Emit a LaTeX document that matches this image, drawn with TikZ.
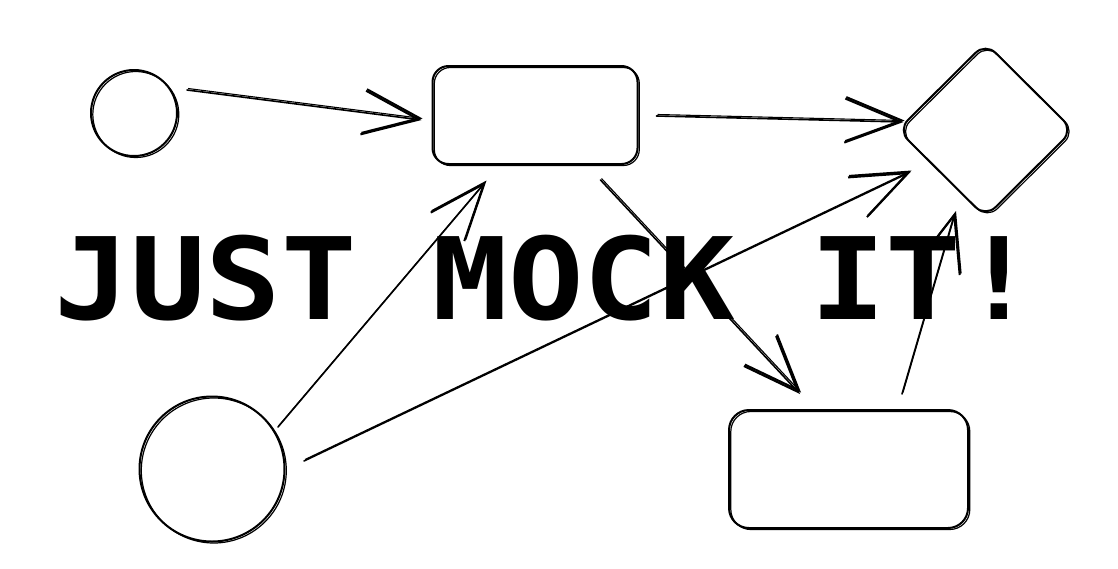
\documentclass[tikz,border=0pt]{standalone}
\usepackage{fontspec}
\newfontfamily\mockfont{DejaVu Sans Mono}
\usetikzlibrary{shapes.geometric,arrows.meta}
\begin{document}
\begin{tikzpicture}[x=1pt,y=-1pt,
  sk/.style={draw, line width=2pt, inner sep=0pt,
    preaction={draw, line width=1.2pt, transform canvas={xshift=1.8pt,yshift=-1.5pt}}},
  arr/.style={line width=1.6pt, line cap=round,
    -{Straight Barb[length=56pt,width=44pt,line width=2pt]},
    preaction={draw, line width=1.1pt, transform canvas={xshift=1pt,yshift=1.5pt}}},
  title/.style={inner sep=0pt}]
\useasboundingbox (0,0) rectangle (1118,568);
% shapes
\node[sk, circle, minimum size=86pt] (c1) at (134,113) {};
\node[sk, rounded corners=16pt, minimum width=205pt, minimum height=98pt] (r1) at (535,115) {};
\node[sk, diamond, minimum width=176pt, minimum height=175pt, rounded corners=14pt] (d) at (985.5,130) {};
\node[sk, circle, minimum size=145pt] (c2) at (212,469) {};
\node[sk, rounded corners=20pt, minimum width=239pt, minimum height=118pt] (r2) at (848.5,469) {};
% title
\node[title] (t) at (546,278) {\resizebox*{982pt}{86pt}{\mockfont\bfseries JUST MOCK IT!}};
% connectors
\draw[arr] ([shift={(9,-23)}]c1.east) -- ([shift={(-10,5)}]r1.west);
\draw[arr] ([shift={(18,1)}]r1.east) -- ([shift={(7,-8)}]d.west);
\draw[arr] ([shift={(14,10)}]c2.north east) -- ([shift={(-49.5,17)}]r1.south);
\draw[arr] ([shift={(18.5,-8)}]c2.east) -- ([shift={(14,42)}]d.west);
\draw[arr] ([shift={(65.5,15)}]r1.south) -- ([shift={(-48.5,-15)}]r2.north);
\draw[arr] ([shift={(53.5,-15)}]r2.north) -- ([shift={(-30.5,-6)}]d.south);
\end{tikzpicture}
\end{document}
